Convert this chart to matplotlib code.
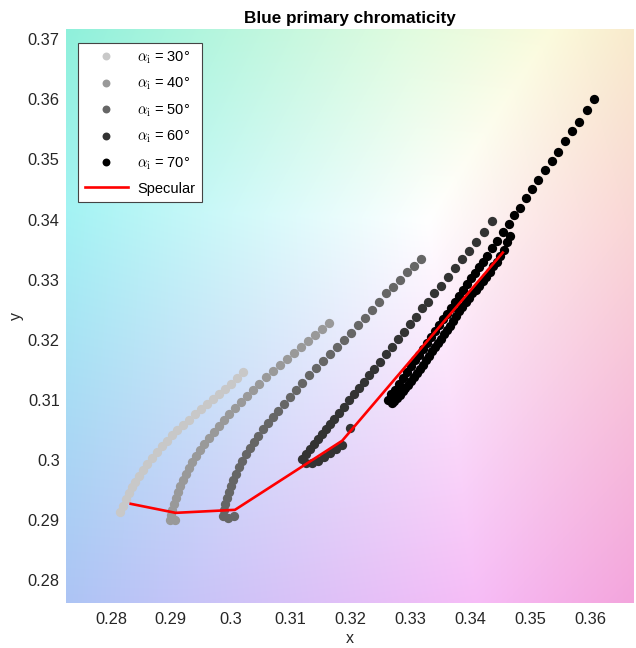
import numpy as np
import matplotlib
matplotlib.use("Agg")
import matplotlib.pyplot as plt

plt.rcParams['font.family'] = ['Liberation Sans', 'DejaVu Sans']
plt.rcParams['mathtext.fontset'] = 'cm'

# incidence angles and grey level of each series
angles = [30, 40, 50, 60, 70]
greys = ['#c8c8c8', '#999999', '#666666', '#333333', '#000000']

# chromaticity points, one series per angle
x30 = [0.2815, 0.2820, 0.2825, 0.2830, 0.2835, 0.2840, 0.2847, 0.2853, 0.2860, 0.2868,
       0.2877, 0.2885, 0.2893, 0.2902, 0.2910, 0.2920, 0.2930, 0.2940, 0.2950, 0.2960,
       0.2970, 0.2980, 0.2990, 0.3000, 0.3010, 0.3020]
y30 = [0.2913, 0.2923, 0.2935, 0.2945, 0.2955, 0.2963, 0.2973, 0.2983, 0.2993, 0.3003,
       0.3013, 0.3023, 0.3032, 0.3042, 0.3050, 0.3058, 0.3067, 0.3077, 0.3085, 0.3093,
       0.3102, 0.3110, 0.3118, 0.3127, 0.3137, 0.3147]

x40 = [0.2907, 0.2898, 0.2900, 0.2902, 0.2905, 0.2908, 0.2912, 0.2915, 0.2920, 0.2925,
       0.2930, 0.2935, 0.2942, 0.2949, 0.2955, 0.2964, 0.2972, 0.2980, 0.2989, 0.2997,
       0.3007, 0.3017, 0.3027, 0.3037, 0.3047, 0.3059, 0.3070, 0.3082, 0.3094, 0.3105,
       0.3117, 0.3129, 0.3140, 0.3152, 0.3164]
y40 = [0.2900, 0.2900, 0.2908, 0.2917, 0.2927, 0.2937, 0.2947, 0.2957, 0.2967, 0.2977,
       0.2987, 0.2997, 0.3007, 0.3017, 0.3027, 0.3037, 0.3047, 0.3057, 0.3067, 0.3077,
       0.3087, 0.3097, 0.3107, 0.3117, 0.3127, 0.3138, 0.3148, 0.3158, 0.3168, 0.3178,
       0.3188, 0.3198, 0.3208, 0.3218, 0.3228]

x50 = [0.3317, 0.3306, 0.3294, 0.3282, 0.3271, 0.3259, 0.3247, 0.3236, 0.3224, 0.3212,
       0.3201, 0.3189, 0.3177, 0.3166, 0.3154, 0.3142, 0.3130, 0.3119, 0.3109, 0.3099,
       0.3089, 0.3079, 0.3070, 0.3062, 0.3054, 0.3045, 0.3039, 0.3032, 0.3025, 0.3019,
       0.3014, 0.3009, 0.3004, 0.3000, 0.2997, 0.2994, 0.2990, 0.2989, 0.2987, 0.2995,
       0.3005]
y50 = [0.3335, 0.3323, 0.3312, 0.3300, 0.3288, 0.3277, 0.3263, 0.3250, 0.3237, 0.3225,
       0.3212, 0.3200, 0.3188, 0.3177, 0.3165, 0.3153, 0.3142, 0.3128, 0.3117, 0.3105,
       0.3093, 0.3082, 0.3072, 0.3062, 0.3052, 0.3040, 0.3030, 0.3020, 0.3010, 0.2998,
       0.2988, 0.2977, 0.2967, 0.2957, 0.2947, 0.2937, 0.2927, 0.2917, 0.2907, 0.2903,
       0.2907]

x60 = [0.3119, 0.3125, 0.3132, 0.3139, 0.3145, 0.3152, 0.3159, 0.3166, 0.3172, 0.3181,
       0.3189, 0.3197, 0.3206, 0.3214, 0.3222, 0.3231, 0.3239, 0.3249, 0.3259, 0.3269,
       0.3279, 0.3289, 0.3299, 0.3309, 0.3319, 0.3329, 0.3339, 0.3351, 0.3362, 0.3374,
       0.3386, 0.3398, 0.3409, 0.3423, 0.3436,
       0.3125, 0.3135, 0.3145, 0.3155, 0.3166, 0.3176, 0.3186, 0.3199]
y60 = [0.3002, 0.3010, 0.3018, 0.3027, 0.3035, 0.3043, 0.3052, 0.3060, 0.3068, 0.3078,
       0.3088, 0.3100, 0.3110, 0.3120, 0.3130, 0.3142, 0.3152, 0.3163, 0.3177, 0.3188,
       0.3202, 0.3213, 0.3227, 0.3238, 0.3252, 0.3263, 0.3277, 0.3290, 0.3305, 0.3320,
       0.3335, 0.3348, 0.3363, 0.3380, 0.3397,
       0.2995, 0.2995, 0.2998, 0.3005, 0.3012, 0.3018, 0.3025, 0.3053]

# 70 deg: long outgoing branch, then the return branch on its right
x70 = [0.3262, 0.3268, 0.3274, 0.3281, 0.3287, 0.3294, 0.3301, 0.3307, 0.3314, 0.3321,
       0.3327, 0.3334, 0.3341, 0.3347, 0.3354, 0.3361, 0.3367, 0.3374, 0.3381, 0.3388,
       0.3394, 0.3401, 0.3408, 0.3414, 0.3421, 0.3428, 0.3436, 0.3444, 0.3454, 0.3464,
       0.3473, 0.3483, 0.3493, 0.3503, 0.3513, 0.3524, 0.3536, 0.3546, 0.3558, 0.3569,
       0.3581, 0.3594, 0.3606,
       0.3466, 0.3461, 0.3456, 0.3449, 0.3444, 0.3438, 0.3433, 0.3426, 0.3421, 0.3414,
       0.3409, 0.3403, 0.3398, 0.3392, 0.3386, 0.3381, 0.3376, 0.3371, 0.3366, 0.3361,
       0.3356, 0.3351, 0.3346, 0.3341, 0.3336, 0.3331, 0.3326, 0.3321, 0.3316, 0.3311,
       0.3306, 0.3301, 0.3296, 0.3291, 0.3287, 0.3282, 0.3277, 0.3272, 0.3269]
y70 = [0.3100, 0.3109, 0.3117, 0.3127, 0.3137, 0.3146, 0.3156, 0.3166, 0.3175, 0.3185,
       0.3195, 0.3205, 0.3214, 0.3224, 0.3234, 0.3243, 0.3253, 0.3263, 0.3272, 0.3282,
       0.3292, 0.3302, 0.3311, 0.3321, 0.3330, 0.3340, 0.3353, 0.3365, 0.3380, 0.3393,
       0.3407, 0.3420, 0.3435, 0.3450, 0.3465, 0.3482, 0.3498, 0.3513, 0.3530, 0.3547,
       0.3563, 0.3583, 0.3600,
       0.3373, 0.3362, 0.3350, 0.3340, 0.3330, 0.3322, 0.3313, 0.3305, 0.3297, 0.3290,
       0.3283, 0.3277, 0.3270, 0.3262, 0.3255, 0.3247, 0.3240, 0.3232, 0.3223, 0.3217,
       0.3210, 0.3202, 0.3195, 0.3188, 0.3182, 0.3173, 0.3167, 0.3158, 0.3152, 0.3145,
       0.3138, 0.3132, 0.3125, 0.3120, 0.3115, 0.3108, 0.3103, 0.3098, 0.3095]

xs = [x30, x40, x50, x60, x70]
ys = [y30, y40, y50, y60, y70]

# specular chromaticity, one point per angle
spec_x = [0.2833, 0.2908, 0.3007, 0.3186, 0.3454]
spec_y = [0.2927, 0.2912, 0.2917, 0.3032, 0.3345]

xlim = (0.2725, 0.3673)
ylim = (0.2762, 0.3717)

M = np.array([[3.2406, -1.5372, -0.4986],
              [-0.9689, 1.8758, 0.0415],
              [0.0557, -0.2040, 1.0570]])


def xy_to_lin(x, y):
    X = x / y
    Z = (1 - x - y) / y
    return np.einsum('ij,j...->...i', M, np.array([X, np.ones_like(X), Z]))


def chroma_background(xlim, ylim, white=(0.333, 0.340), n=300):
    gx, gy = np.meshgrid(np.linspace(*xlim, n), np.linspace(*ylim, n))
    rgb = xy_to_lin(gx, gy) / xy_to_lin(np.array(white[0]), np.array(white[1]))
    rgb = np.clip(rgb, 0, None)
    rgb = rgb / rgb.max(axis=2, keepdims=True)
    rgb = np.where(rgb <= 0.0031308, 12.92 * rgb, 1.055 * rgb ** (1 / 2.4) - 0.055)
    rgb = np.clip(rgb, 0, 1)
    # pastel look: fade toward white, a touch darker where saturated
    rgb = 1 - 0.88 * (1 - rgb)
    sat = 1 - rgb.min(axis=2, keepdims=True)
    return rgb * (1 - 0.14 * sat)


fig = plt.figure(figsize=(6.36, 6.48), dpi=100)
ax = fig.add_axes([66 / 636, 1 - 603 / 648, 568 / 636, 574 / 648])

ax.imshow(chroma_background(xlim, ylim), extent=(*xlim, *ylim), origin='lower',
          aspect='auto', zorder=0, interpolation='bilinear')

for a, g, x, y in zip(angles, greys, xs, ys):
    ax.plot(x, y, 'o', color=g, markersize=6.7, markeredgewidth=0,
            label=r'$\alpha_{\rm i}$ = %d°' % a, zorder=2)

ax.plot(spec_x, spec_y, '-', color='red', linewidth=1.9, label='Specular', zorder=3)

ax.set_xlim(xlim)
ax.set_ylim(ylim)
ax.set_xticks(np.arange(0.28, 0.3601, 0.01))
ax.set_xticklabels(['0.28', '0.29', '0.3', '0.31', '0.32', '0.33', '0.34', '0.35', '0.36'])
ax.set_yticks(np.arange(0.28, 0.3701, 0.01))
ax.set_yticklabels(['0.28', '0.29', '0.3', '0.31', '0.32', '0.33', '0.34', '0.35', '0.36', '0.37'])
ax.tick_params(length=0, labelsize=11.8, colors='#262626')
ax.tick_params(axis='x', pad=6.5)
ax.tick_params(axis='y', pad=4.5)
for s in ax.spines.values():
    s.set_visible(False)

ax.set_xlabel('x', fontsize=11.5, color='#262626', labelpad=3)
ax.set_ylabel('y', fontsize=11.5, color='#262626', labelpad=3)
ax.set_title('Blue primary chromaticity', fontsize=12.3, fontweight='bold', pad=4)

leg = ax.legend(loc='upper left', bbox_to_anchor=(12 / 568, 1 - 14 / 574), borderaxespad=0,
                fontsize=10.5, markerscale=0.85, handlelength=3.0,
                labelspacing=0.68, handletextpad=0.6, borderpad=0.45,
                fancybox=False, framealpha=1, edgecolor='#444444')
leg.get_frame().set_linewidth(0.8)

fig.savefig('out.png', dpi=100)
